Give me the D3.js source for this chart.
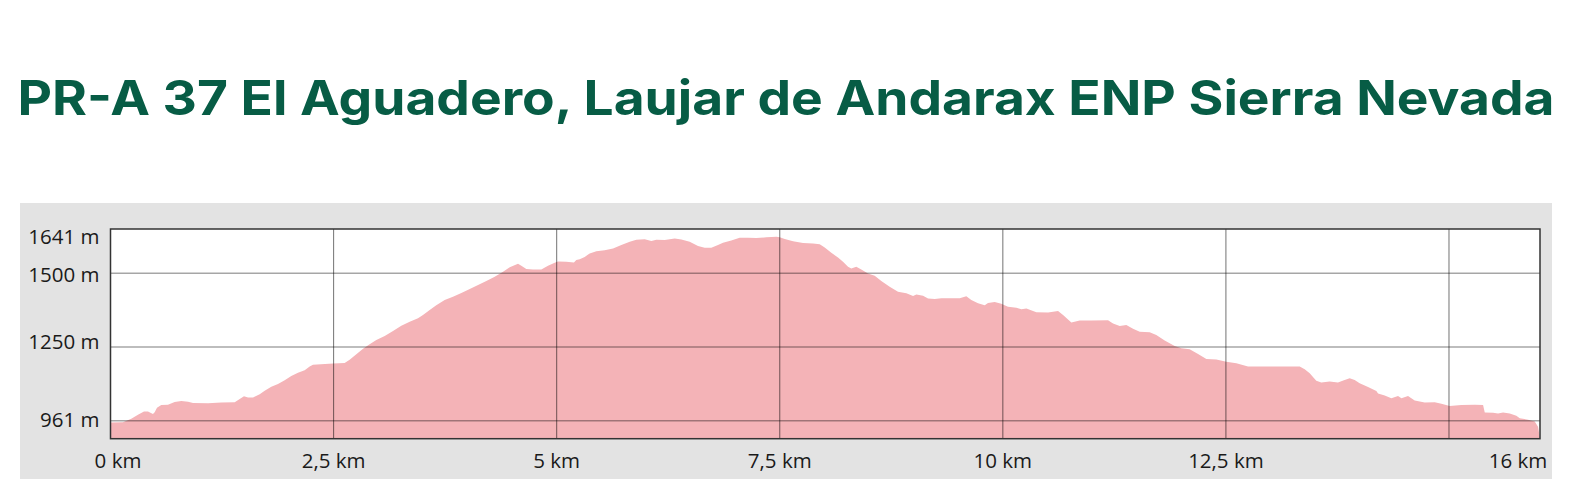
<!DOCTYPE html>
<html>
<head>
<meta charset="utf-8">
<script src="https://cdn.jsdelivr.net/npm/d3@7"></script>
<style>
  html, body { margin: 0; padding: 0; background: #ffffff; }
  svg { display: block; }
</style>
</head>
<body>
<svg id="chart" width="1572" height="500"></svg>
<script>
// ---- Data ----
const titleText = "PR-A 37 El Aguadero, Laujar de Andarax ENP Sierra Nevada";

// distance along the route, km
const distanceKm = [
  0, 0.14, 0.233, 0.308, 0.375, 0.42, 0.476, 0.495, 0.521, 0.569, 0.644, 0.719, 0.794, 0.869, 0.925,
  1.093, 1.242, 1.392, 1.448, 1.496, 1.541, 1.597, 1.672, 1.728, 1.802, 1.877, 1.952, 2.026, 2.101,
  2.176, 2.232, 2.269, 2.494, 2.624, 2.68, 2.755, 2.83, 2.904, 2.979, 3.073, 3.166, 3.259, 3.353,
  3.446, 3.502, 3.577, 3.651, 3.745, 3.838, 3.932, 4.026, 4.119, 4.212, 4.306, 4.399, 4.474, 4.567,
  4.604, 4.66, 4.735, 4.828, 4.903, 4.978, 5.015, 5.108, 5.194, 5.22, 5.258, 5.314, 5.37, 5.445,
  5.538, 5.632, 5.725, 5.819, 5.893, 5.987, 6.061, 6.117, 6.211, 6.323, 6.397, 6.491, 6.584, 6.659,
  6.733, 6.808, 6.864, 6.957, 7.051, 7.145, 7.238, 7.35, 7.462, 7.5, 7.556, 7.649, 7.761, 7.873,
  7.948, 8.004, 8.078, 8.153, 8.209, 8.265, 8.302, 8.358, 8.414, 8.489, 8.564, 8.638, 8.732, 8.825,
  8.919, 8.994, 9.031, 9.106, 9.162, 9.237, 9.311, 9.423, 9.517, 9.591, 9.647, 9.722, 9.797, 9.834,
  9.909, 9.983, 10.058, 10.152, 10.208, 10.264, 10.376, 10.507, 10.619, 10.675, 10.768, 10.862,
  10.992, 11.179, 11.235, 11.31, 11.384, 11.459, 11.534, 11.646, 11.72, 11.814, 11.926, 12.001,
  12.094, 12.188, 12.281, 12.393, 12.505, 12.617, 12.748, 12.879, 13.103, 13.327, 13.383, 13.439,
  13.513, 13.569, 13.663, 13.756, 13.831, 13.887, 13.943, 13.999, 14.093, 14.186, 14.205, 14.28,
  14.354, 14.429, 14.467, 14.541, 14.616, 14.728, 14.84, 14.915, 15.008, 15.139, 15.289, 15.382,
  15.401, 15.494, 15.55, 15.606, 15.681, 15.755, 15.793, 15.886, 15.961, 15.998, 16.02
];

// elevation, m
const elevationM = [
  948, 949, 962, 977, 989, 989, 980, 987, 1003, 1014, 1015, 1025, 1029, 1026, 1021,
  1020, 1023, 1024, 1036, 1046, 1042, 1042, 1054, 1067, 1082, 1092, 1106, 1122, 1134,
  1143, 1157, 1164, 1168, 1170, 1182, 1203, 1223, 1240, 1256, 1271, 1290, 1309, 1324,
  1337, 1349, 1368, 1386, 1405, 1417, 1431, 1446, 1461, 1476, 1492, 1511, 1527, 1540,
  1533, 1521, 1519, 1519, 1533, 1544, 1549, 1548, 1545, 1554, 1557, 1566, 1579, 1587,
  1591, 1597, 1610, 1622, 1630, 1632, 1625, 1630, 1629, 1635, 1631, 1622, 1607, 1600,
  1600, 1610, 1619, 1627, 1637, 1637, 1636, 1639, 1641, 1639, 1633, 1624, 1618, 1616,
  1613, 1601, 1581, 1564, 1548, 1529, 1523, 1529, 1519, 1504, 1496, 1476, 1455, 1436,
  1430, 1420, 1426, 1421, 1411, 1409, 1412, 1412, 1412, 1419, 1405, 1393, 1386, 1394,
  1398, 1391, 1380, 1376, 1371, 1374, 1360, 1359, 1364, 1349, 1321, 1329,
  1329, 1330, 1318, 1308, 1312, 1298, 1287, 1285, 1275, 1254, 1234, 1225,
  1222, 1204, 1185, 1183, 1175, 1169, 1157, 1157, 1157, 1157, 1147, 1132,
  1104, 1098, 1101, 1098, 1107, 1113, 1107, 1095, 1081, 1066, 1057, 1049,
  1039, 1047, 1039, 1047, 1030, 1023, 1024, 1018, 1010, 1014, 1015, 1014,
  986, 985, 982, 986, 982, 974, 964, 959, 952, 933, 890
];

// axis ticks
const xTickValues = [0, 2.5, 5, 7.5, 10, 12.5, 16];
const xTickLabels = ["0 km", "2,5 km", "5 km", "7,5 km", "10 km", "12,5 km", "16 km"];
const xGridValues = [2.5, 5, 7.5, 10, 12.5, 15];
const yTickValues = [961, 1250, 1500, 1641];
const yTickLabels = ["961 m", "1250 m", "1500 m", "1641 m"];
const yGridValues = [955, 1230, 1505];
const xDomain = [0, 16.02];
const yDomain = [888, 1670];

// ---- Layout ----
const W = 1572, H = 500;
const panel = { x: 20, y: 203, w: 1532, h: 276 };
const plot = { left: 110.5, right: 1540, top: 229, bottom: 438.7 };

const svg = d3.select("#chart");

// title
const title = svg.append("text")
  .attr("x", W / 2)
  .attr("y", 115)
  .attr("text-anchor", "middle")
  .attr("font-family", "Inter, 'Open Sans', sans-serif")
  .attr("font-weight", 700)
  .attr("font-size", 48)
  .attr("fill", "#075c45")
  .attr("textLength", 1537)
  .attr("lengthAdjust", "spacingAndGlyphs")
  .text(titleText);

// grey panel
svg.append("rect")
  .attr("x", panel.x).attr("y", panel.y)
  .attr("width", panel.w).attr("height", panel.h)
  .attr("fill", "#e3e3e3");

// plot background
svg.append("rect")
  .attr("x", plot.left).attr("y", plot.top)
  .attr("width", plot.right - plot.left).attr("height", plot.bottom - plot.top)
  .attr("fill", "#ffffff");

const x = d3.scaleLinear().domain(xDomain).range([plot.left, plot.right]);
const y = d3.scaleLinear().domain(yDomain).range([plot.bottom, plot.top]);

const points = distanceKm.map((d, i) => ({ d, e: elevationM[i] }));

const area = d3.area()
  .x(p => x(p.d))
  .y0(plot.bottom)
  .y1(p => y(p.e))
  .curve(d3.curveLinear);

svg.append("path")
  .datum(points)
  .attr("d", area)
  .attr("fill", "#f4b3b7");

// grid lines
svg.append("g").selectAll("line").data(yGridValues).join("line")
  .attr("x1", plot.left).attr("x2", plot.right)
  .attr("y1", d => y(d)).attr("y2", d => y(d))
  .attr("stroke", "rgba(0,0,0,0.35)")
  .attr("stroke-width", 1.3);

svg.append("g").selectAll("line").data(xGridValues).join("line")
  .attr("x1", d => x(d)).attr("x2", d => x(d))
  .attr("y1", plot.top).attr("y2", plot.bottom)
  .attr("stroke", "rgba(0,0,0,0.5)")
  .attr("stroke-width", 1.1);

// border
svg.append("rect")
  .attr("x", plot.left).attr("y", plot.top)
  .attr("width", plot.right - plot.left).attr("height", plot.bottom - plot.top)
  .attr("fill", "none")
  .attr("stroke", "#333333")
  .attr("stroke-width", 1.5);

// y tick labels
svg.append("g").selectAll("text").data(yTickValues).join("text")
  .attr("x", 99.5)
  .attr("y", d => y(d))
  .attr("dy", "0.36em")
  .attr("text-anchor", "end")
  .attr("font-family", "'Open Sans', sans-serif")
  .attr("font-size", 20.5)
  .attr("fill", "#1a1a1a")
  .text((d, i) => yTickLabels[i]);

// x tick labels
svg.append("g").selectAll("text").data(xTickValues).join("text")
  .attr("x", d => Math.max(118, Math.min(1518, x(d))))
  .attr("y", 468)
  .attr("text-anchor", "middle")
  .attr("font-family", "'Open Sans', sans-serif")
  .attr("font-size", 20.5)
  .attr("fill", "#1a1a1a")
  .text((d, i) => xTickLabels[i]);
</script>
</body>
</html>
